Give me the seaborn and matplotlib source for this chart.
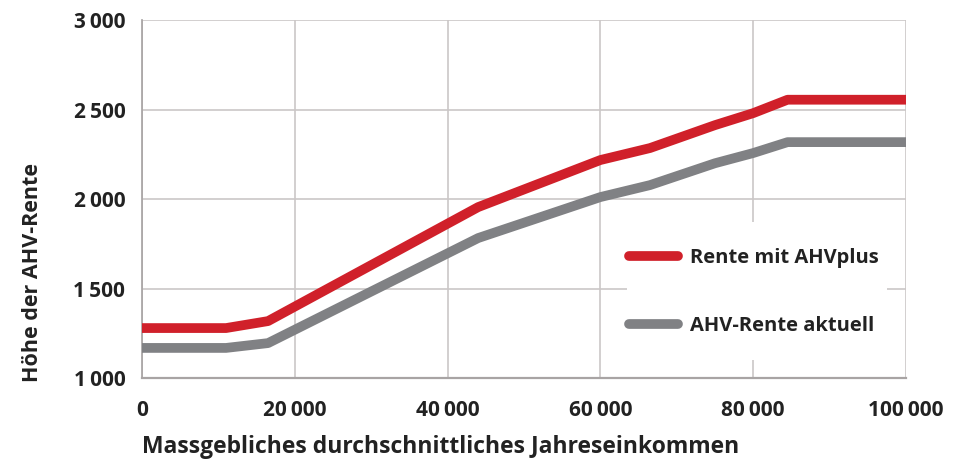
import matplotlib
matplotlib.use("Agg")
import matplotlib.pyplot as plt
from matplotlib.patches import Rectangle
import seaborn as sns
import pandas as pd

# Einkommen (CHF) und monatliche Rente (CHF)
einkommen = [0, 11000, 16500, 44000, 60000, 66500, 75000, 80000, 84500, 100000]
rente_plus = [1279, 1279, 1318, 1955, 2218, 2285, 2413, 2480, 2555, 2555]
rente_aktuell = [1168, 1168, 1195, 1782, 2011, 2078, 2200, 2257, 2318, 2318]
serien = ["Rente mit AHVplus", "AHV-Rente aktuell"]

x_ticks = [0, 20000, 40000, 60000, 80000, 100000]
y_ticks = [1000, 1500, 2000, 2500, 3000]

df = pd.DataFrame({
    "Einkommen": einkommen * 2,
    "Rente": rente_plus + rente_aktuell,
    "Serie": [serien[0]] * len(einkommen) + [serien[1]] * len(einkommen),
})
farben = {serien[0]: "#d0202a", serien[1]: "#808184"}

sns.set_theme(style="white")
plt.rcParams["font.family"] = ["Open Sans", "DejaVu Sans"]
text_col = "#222222"

fig = plt.figure(figsize=(9.55, 4.67), dpi=100)
ax = fig.add_axes([0.1487, 0.1906, 0.80, 0.7664])

sns.lineplot(data=df, x="Einkommen", y="Rente", hue="Serie", palette=farben,
             linewidth=7, ax=ax, legend=False, zorder=3)

ax.set_xlim(0, 100000)
ax.set_ylim(1000, 3000)
ax.set_xticks(x_ticks)
ax.set_yticks(y_ticks)
fmt = lambda v: f"{v:,}".replace(",", "\u2009")
ax.set_xticklabels([fmt(v) for v in x_ticks], fontsize=15, fontweight="bold", color=text_col)
ax.set_yticklabels([fmt(v) for v in y_ticks], fontsize=15, fontweight="bold", color=text_col)

ax.grid(True, color="#cbc7c7", linewidth=1.2, zorder=0)
ax.set_axisbelow(True)
for s in ["top", "right"]:
    ax.spines[s].set_visible(False)
ax.spines["left"].set_color("#a8a4a4")
ax.spines["bottom"].set_color("#a8a4a4")
ax.spines["bottom"].set_linewidth(1.6)
ax.tick_params(axis="both", length=5, width=1, color="#a8a4a4", direction="out")
ax.tick_params(axis="x", pad=11)
ax.tick_params(axis="y", pad=7)

ax.set_xlabel("Massgebliches durchschnittliches Jahreseinkommen", fontsize=16.5,
              fontweight="bold", color=text_col)
ax.xaxis.set_label_coords(0.0, -0.16)
ax.xaxis.label.set_horizontalalignment("left")
ax.xaxis.label.set_verticalalignment("top")
ax.set_ylabel("Höhe der AHV-Rente", fontsize=15.5, fontweight="bold", color=text_col)
ax.yaxis.set_label_coords(-0.13, 0.296)

# weisser Hintergrund hinter der Legende
ax.add_patch(Rectangle((0.635, 0.05), 0.34, 0.386, transform=ax.transAxes,
                       facecolor="white", edgecolor="none", zorder=1))

handles = [plt.Line2D([], [], color=farben[s], linewidth=7, solid_capstyle="round") for s in serien]
leg = ax.legend(handles, serien, loc="center left", bbox_to_anchor=(0.638, 0.24),
                prop={"family": ["Open Sans", "DejaVu Sans"], "weight": "bold", "size": 14.5},
                frameon=False, handlelength=2.4, handletextpad=0.6,
                labelspacing=2.35, borderpad=0, borderaxespad=0)
for t in leg.get_texts():
    t.set_color(text_col)

fig.savefig("out.png", dpi=100)
